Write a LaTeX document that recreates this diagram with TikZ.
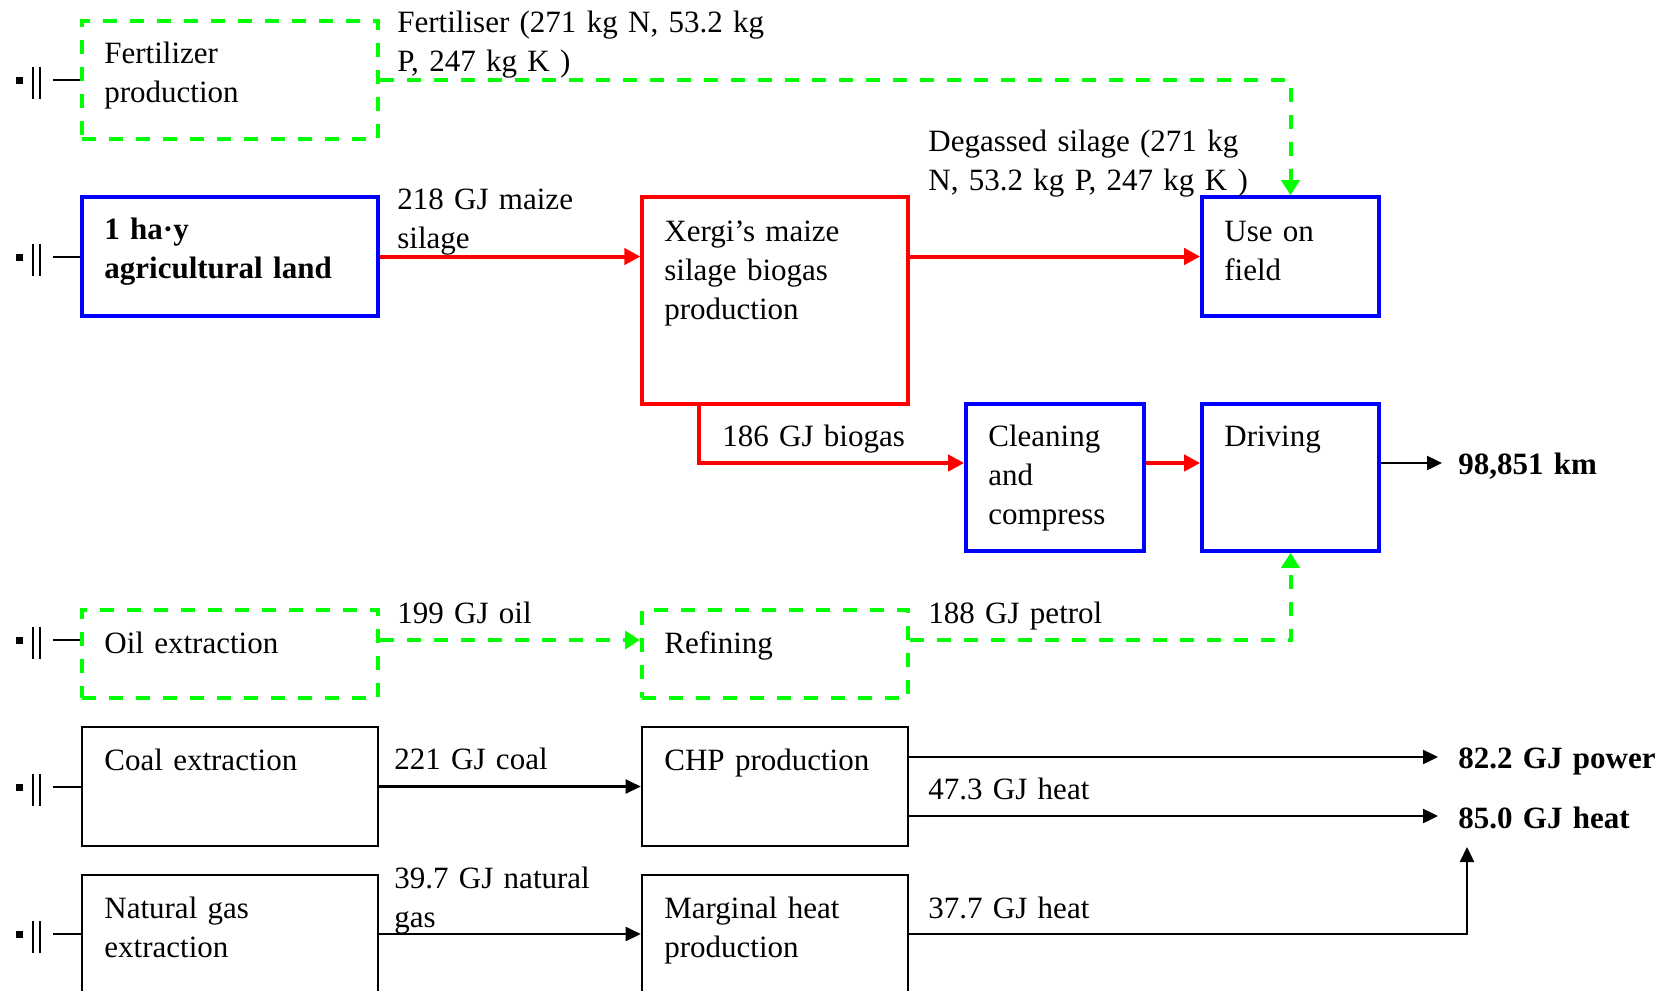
\documentclass[tikz,border=0pt]{standalone}
\usepackage{fontspec}
\setmainfont{Liberation Serif}
\usetikzlibrary{arrows.meta,fit,calc}
\definecolor{gline}{RGB}{0,255,0}
\definecolor{rline}{RGB}{255,0,0}
\definecolor{bline}{RGB}{0,0,255}
\begin{document}
\begin{tikzpicture}[x=0.5pt,y=-0.5pt,
  font=\fontsize{15.5}{19.5}\selectfont,
  txt/.style={anchor=base west, inner sep=0pt, text width=300pt, align=left},
  btxt/.style={txt, font=\fontsize{15.5}{19.5}\selectfont\bfseries},
  greenbox/.style={draw=gline, line width=2pt, dash pattern=on 7pt off 6.5pt, inner sep=0pt},
  bluebox/.style={draw=bline, line width=1.8pt, inner sep=0pt},
  redbox/.style={draw=rline, line width=1.6pt, inner sep=0pt},
  blackbox/.style={draw=black, line width=1.3pt, inner sep=0pt},
  garrow/.style={draw=gline, line width=2pt, dash pattern=on 7pt off 6.5pt, -{Triangle[length=7.5pt,width=9pt]}},
  rarrow/.style={draw=rline, line width=2pt, -{Triangle[length=8pt,width=8pt]}},
  barrow/.style={draw=black, line width=1.2pt, -{Triangle[length=7.5pt,width=7pt]}},
  tick/.style={draw=black, line width=0.7pt}
]
\useasboundingbox (0,0) rectangle (1661,991);

% boxes
\node[greenbox, fit={(82,21) (378,139)}] (fert) {};
\node[bluebox, fit={(82,197) (378,316)}] (land) {};
\node[redbox, fit={(642,197) (908,404)}] (xergi) {};
\node[bluebox, fit={(1202,197) (1379,316)}] (use) {};
\node[bluebox, fit={(966,404) (1144,551)}] (clean) {};
\node[bluebox, fit={(1202,404) (1379,551)}] (drive) {};
\node[greenbox, fit={(82,610) (378,698)}] (oil) {};
\node[greenbox, fit={(642,610) (908,698)}] (ref) {};
\node[blackbox, fit={(82,727) (378,846)}] (coal) {};
\node[blackbox, fit={(642,727) (908,846)}] (chp) {};
\node[blackbox, fit={(82,875) (378,993)}] (ng) {};
\node[blackbox, fit={(642,875) (908,993)}] (marg) {};

% texts in boxes
\node[txt] (tfert) at (104,63) {Fertilizer\\production};
\node[btxt] (tland) at (104,239) {1 ha·y\\agricultural land};
\node[txt] (txergi) at (664,241) {Xergi’s maize\\silage biogas\\production};
\node[txt] (tuse) at (1224,241) {Use on\\field};
\node[txt] (tclean) at (988,446) {Cleaning\\and\\compress};
\node[txt] (tdrive) at (1224,446) {Driving};
\node[txt] (toil) at (104,653) {Oil extraction};
\node[txt] (tref) at (664,653) {Refining};
\node[txt] (tcoal) at (104,770) {Coal extraction};
\node[txt] (tchp) at (664,770) {CHP production};
\node[txt] (tng) at (104,918) {Natural gas\\extraction};
\node[txt] (tmarg) at (664,918) {Marginal heat\\production};

% flow labels
\node[txt] (lfert) at (397,32) {Fertiliser (271 kg N, 53.2 kg\\P, 247 kg K )};
\node[txt] (lmaize) at (397,209) {218 GJ maize\\silage};
\node[txt] (ldegas) at (928,151) {Degassed silage (271 kg\\N, 53.2 kg P, 247 kg K )};
\node[txt] (lbiogas) at (722,446) {186 GJ biogas};
\node[txt] (loil) at (397,623) {199 GJ oil};
\node[txt] (lpetrol) at (928,623) {188 GJ petrol};
\node[txt] (lcoal) at (394,769) {221 GJ coal};
\node[txt] (lheat47) at (928,799) {47.3 GJ heat};
\node[txt] (lng) at (394,888) {39.7 GJ natural\\gas};
\node[txt] (lheat37) at (928,918) {37.7 GJ heat};

% outputs
\node[btxt] (km) at (1458,474) {98,851 km};
\node[btxt] (power) at (1458,768) {82.2 GJ power};
\node[btxt] (heat) at (1458,828) {85.0 GJ heat};

% left markers
\foreach \n/\yy in {mfert/80, mland/257, moil/640, mcoal/787, mng/934}{
  \fill (16,\yy-3) rectangle (23,\yy+4);
  \draw[line width=1.1pt] (33,\yy-13) -- (33,\yy+19) (40,\yy-13) -- (40,\yy+19);
  \coordinate (\n) at (53,\yy);
}
\draw[tick] (mfert) -- (mfert -| fert.west);
\draw[tick] (mland) -- (mland -| land.west);
\draw[tick] (moil) -- (moil -| oil.west);
\draw[tick] (mcoal) -- (mcoal -| coal.west);
\draw[tick] (mng) -- (mng -| ng.west);

% row coordinates
\coordinate (rdrive) at (0,463);
\coordinate (rpower) at (0,757);
\coordinate (rheat) at (0,816);

% connectors
\draw[garrow] (fert.east) -| (use.north);
\draw[rarrow] (land.east) -- (land.east -| xergi.west);
\draw[rarrow] (xergi.east |- use.west) -- (use.west);
\draw[rarrow] ($(xergi.south west)+(59,0)$) |- (rdrive -| clean.west);
\draw[rarrow] (rdrive -| clean.east) -- (rdrive -| drive.west);
\draw[barrow, shorten >=8pt] (rdrive -| drive.east) -- (rdrive -| km.west);
\draw[garrow] (oil.east |- moil) -- (ref.west |- moil);
\draw[garrow] (ref.east |- moil) -| (drive.south);
\draw[barrow] (coal.east) -- (chp.west);
\draw[barrow, shorten >=10pt] (rpower -| chp.east) -- (rpower -| power.west);
\draw[barrow, shorten >=10pt] (rheat -| chp.east) -- (rheat -| heat.west);
\draw[barrow] (ng.east) -- (marg.west);
\draw[barrow] (marg.east) -| ($(heat.base west)+(9,19)$);
\end{tikzpicture}
\end{document}
